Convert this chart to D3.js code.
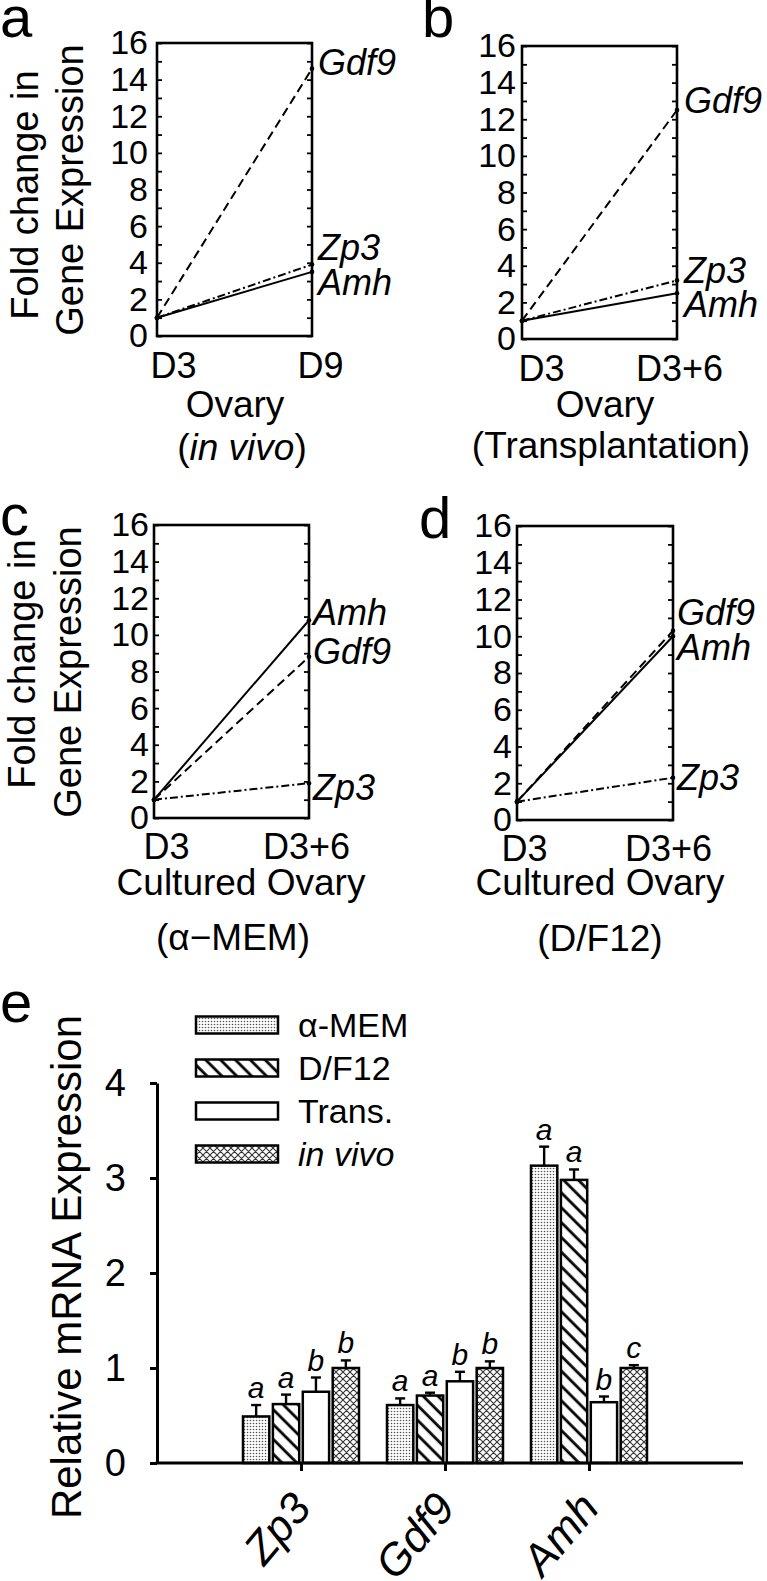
<!DOCTYPE html>
<html><head><meta charset="utf-8">
<script src="https://cdn.jsdelivr.net/npm/d3@7"></script>
<style>
body{margin:0;background:#fff}
svg{display:block}
text{font-family:"Liberation Sans",Arial,Helvetica,sans-serif;fill:#000}
</style>
</head><body>
<svg id="fig" width="767" height="1581"></svg>
<script>
// ================= DATA =================
const yTicksLine = [0, 2, 4, 6, 8, 10, 12, 14, 16];

const genesA = ["Gdf9", "Zp3", "Amh"];
const startA = [1, 1, 1];
const endA   = [14.6, 3.9, 3.5];
const timesA = ["D3", "D9"];

const genesB = ["Gdf9", "Zp3", "Amh"];
const startB = [1, 1, 1];
const endB   = [12.5, 3.2, 2.5];
const timesB = ["D3", "D3+6"];

const genesC = ["Amh", "Gdf9", "Zp3"];
const startC = [1, 1, 1];
const endC   = [10.8, 8.8, 1.9];
const timesC = ["D3", "D3+6"];

const genesD = ["Gdf9", "Amh", "Zp3"];
const startD = [1, 1, 1];
const endD   = [10.3, 10.0, 2.3];
const timesD = ["D3", "D3+6"];

// bar panel e
const barCategories = ["Zp3", "Gdf9", "Amh"];
const barSeries = ["α-MEM", "D/F12", "Trans.", "in vivo"];
const valMEM    = [0.49, 0.61, 3.13];
const errMEM    = [0.12, 0.07, 0.20];
const valDF12   = [0.62, 0.71, 2.98];
const errDF12   = [0.10, 0.03, 0.11];
const valTrans  = [0.75, 0.86, 0.64];
const errTrans  = [0.15, 0.10, 0.06];
const valInVivo = [1.00, 1.00, 1.00];
const errInVivo = [0.08, 0.07, 0.03];
const sigMEM    = ["a", "a", "a"];
const sigDF12   = ["a", "a", "a"];
const sigTrans  = ["b", "b", "b"];
const sigInVivo = ["b", "b", "c"];
const yTicksBar = [0, 1, 2, 3, 4];

// ================= STYLE / LAYOUT =================
const FONT = '"Liberation Sans",Arial,Helvetica,sans-serif';
const dashOf = {Gdf9: "9,5", Zp3: "8,3,2,3", Amh: null};

const svg = d3.select("#fig");
svg.append("rect").attr("width", 767).attr("height", 1581).attr("fill", "#fff");
const defs = svg.append("defs");

const pDots = defs.append("pattern").attr("id", "pdots").attr("patternUnits", "userSpaceOnUse")
  .attr("width", 3).attr("height", 3);
pDots.append("rect").attr("width", 3).attr("height", 3).attr("fill", "#fff");
pDots.append("circle").attr("cx", 1.5).attr("cy", 1.5).attr("r", 0.8).attr("fill", "#555");

const pStr = defs.append("pattern").attr("id", "pstripes").attr("patternUnits", "userSpaceOnUse")
  .attr("width", 10.5).attr("height", 10.5).attr("patternTransform", "rotate(-45)");
pStr.append("rect").attr("width", 10.5).attr("height", 10.5).attr("fill", "#fff");
pStr.append("line").attr("x1", 5).attr("x2", 5).attr("y1", -1).attr("y2", 11.5)
  .attr("stroke", "#000").attr("stroke-width", 2.8);

const pHatch = defs.append("pattern").attr("id", "phatch").attr("patternUnits", "userSpaceOnUse")
  .attr("width", 7).attr("height", 7);
pHatch.append("rect").attr("width", 7).attr("height", 7).attr("fill", "#fff");
pHatch.append("path").attr("d", "M0,0L7,7M7,0L0,7M-1,6L1,8M6,-1L8,1")
  .attr("stroke", "#333").attr("stroke-width", 1.1).attr("fill", "none");

// ================= LINE PANELS =================
function linePanel(cfg, genes, starts, ends, times) {
  const g = svg.append("g");
  const x = d3.scaleLinear().domain([0, 1]).range([cfg.left, cfg.left + cfg.w]);
  const y = d3.scaleLinear().domain([0, 16]).range([cfg.top + cfg.h, cfg.top]);
  const minor = d3.range(0, 17);

  const aL = g.append("g").attr("transform", `translate(${cfg.left},0)`)
    .call(d3.axisRight(y).tickValues(minor).tickSize(5).tickFormat(""));
  aL.select(".domain").remove();
  const aR = g.append("g").attr("transform", `translate(${cfg.left + cfg.w},0)`)
    .call(d3.axisLeft(y).tickValues(minor).tickSize(5).tickFormat(""));
  aR.select(".domain").remove();
  g.selectAll(".tick line").attr("stroke-width", 1.8);

  const lab = g.append("g").attr("transform", `translate(${cfg.left},0)`)
    .call(d3.axisLeft(y).tickValues(yTicksLine).tickSize(0).tickPadding(cfg.tickPad));
  lab.select(".domain").remove();
  lab.selectAll("text").style("font-size", "34px").style("font-family", FONT).attr("fill", "#000");

  g.append("rect").attr("x", x(0)).attr("y", y(16)).attr("width", x(1) - x(0)).attr("height", y(0) - y(16))
    .attr("fill", "none").attr("stroke", "#000").attr("stroke-width", 2.6);

  const line = d3.line().x(d => x(d[0])).y(d => y(d[1]));
  genes.forEach((gn, i) => {
    const pts = [[0, starts[i]], [1, ends[i]]];
    g.append("path").attr("d", line(pts)).attr("fill", "none").attr("stroke", "#000")
      .attr("stroke-width", 2).attr("stroke-dasharray", dashOf[gn]);
    pts.forEach(p => g.append("circle").attr("cx", x(p[0])).attr("cy", y(p[1])).attr("r", 2.3).attr("fill", "#000"));
    g.append("text").attr("x", x(1) + cfg.labDx).attr("y", y(ends[i]) + cfg.labDy[gn])
      .attr("dy", "0.35em").style("font-size", "36px").style("font-style", "italic").text(gn);
  });

  const xa = g.append("g").attr("transform", `translate(0,${y(0)})`)
    .call(d3.axisBottom(x).tickValues([0, 1]).tickSize(0).tickPadding(cfg.xPad).tickFormat((d, i) => times[i]));
  xa.select(".domain").remove();
  xa.selectAll("text").style("font-size", "36px").style("font-family", FONT).attr("fill", "#000");
  xa.selectAll(".tick").filter(d => d === 0).select("text").attr("text-anchor", "start").attr("dx", cfg.d3dx);
  xa.selectAll(".tick").filter(d => d === 1).select("text").attr("dx", cfg.endDx);

  g.append("text").attr("x", cfg.t1[0]).attr("y", cfg.t1[1]).attr("dy", "0.35em").attr("text-anchor", "middle")
    .style("font-size", "37px").text(cfg.title1);
  const t2 = g.append("text").attr("x", cfg.t2[0]).attr("y", cfg.t2[1]).attr("dy", "0.35em").attr("text-anchor", "middle")
    .style("font-size", "37px");
  cfg.title2.forEach(s => t2.append("tspan").style("font-style", s[1] ? "italic" : "normal").text(s[0]));

  if (cfg.yTitle) {
    [["Fold change in", cfg.yT1], ["Gene Expression", cfg.yT2]].forEach(([s, p]) => {
      g.append("text").attr("transform", `translate(${p[0]},${p[1]}) rotate(-90)`).attr("text-anchor", "middle")
        .attr("dy", "0.35em").style("font-size", "38px").text(s);
    });
  }
  g.append("text").attr("x", cfg.letter[0]).attr("y", cfg.letter[1]).style("font-size", "58px").text(cfg.letterText);
}

linePanel({left: 157, top: 43, w: 155, h: 293, tickPad: 9, labDx: 6, xPad: 16, d3dx: -7, endDx: 8,
  labDy: {Gdf9: -6, Zp3: -17, Amh: 10},
  t1: [235, 404], title1: "Ovary", t2: [242, 447], title2: [["(", 0], ["in vivo", 1], [")", 0]],
  yTitle: true, yT1: [25, 195], yT2: [70, 190], letter: [0, 37], letterText: "a"},
  genesA, startA, endA, timesA);

linePanel({left: 522, top: 46, w: 155, h: 293, tickPad: 6, labDx: 7, xPad: 16, d3dx: -4, endDx: 2,
  labDy: {Gdf9: -10, Zp3: -10, Amh: 11},
  t1: [605, 404], title1: "Ovary", t2: [611, 445], title2: [["(Transplantation)", 0]],
  yTitle: false, letter: [422, 37], letterText: "b"},
  genesB, startB, endB, timesB);

linePanel({left: 154, top: 525, w: 155, h: 293, tickPad: 5, labDx: 4, xPad: 15, d3dx: -11, endDx: -3,
  labDy: {Amh: -8, Gdf9: -5, Zp3: 4},
  t1: [241, 882], title1: "Cultured Ovary", t2: [233, 937], title2: [["(α−MEM)", 0]],
  yTitle: true, yT1: [22, 664], yT2: [68, 672], letter: [0, 535], letterText: "c"},
  genesC, startC, endC, timesC);

linePanel({left: 517, top: 526, w: 156, h: 294, tickPad: 5, labDx: 4, xPad: 15, d3dx: -16, endDx: -5,
  labDy: {Gdf9: -18, Amh: 11, Zp3: 0},
  t1: [600, 882], title1: "Cultured Ovary", t2: [600, 938], title2: [["(D/F12)", 0]],
  yTitle: false, letter: [419, 538], letterText: "d"},
  genesD, startD, endD, timesD);

// ================= BAR PANEL (e) =================
const eg = svg.append("g");
const yB = d3.scaleLinear().domain([0, 4]).range([1463, 1083]);
const xB = d3.scalePoint().domain(barCategories).range([157, 733]).padding(1);
const xS = d3.scaleBand().domain(barSeries).range([-58, 58]).paddingInner(0.12);
const fills = {"α-MEM": "url(#pdots)", "D/F12": "url(#pstripes)", "Trans.": "#fff", "in vivo": "url(#phatch)"};
const seriesVals = {"α-MEM": valMEM, "D/F12": valDF12, "Trans.": valTrans, "in vivo": valInVivo};
const seriesErr  = {"α-MEM": errMEM, "D/F12": errDF12, "Trans.": errTrans, "in vivo": errInVivo};
const seriesSig  = {"α-MEM": sigMEM, "D/F12": sigDF12, "Trans.": sigTrans, "in vivo": sigInVivo};

barSeries.forEach(s => {
  barCategories.forEach((c, i) => {
    const v = seriesVals[s][i], e = seriesErr[s][i];
    const x0 = xB(c) + xS(s), bw = xS.bandwidth(), cx = x0 + bw / 2;
    eg.append("line").attr("x1", cx).attr("x2", cx).attr("y1", yB(v)).attr("y2", yB(v + e))
      .attr("stroke", "#000").attr("stroke-width", 2.4);
    eg.append("line").attr("x1", cx - 5).attr("x2", cx + 5).attr("y1", yB(v + e)).attr("y2", yB(v + e))
      .attr("stroke", "#000").attr("stroke-width", 2.4);
    eg.append("rect").attr("x", x0).attr("y", yB(v)).attr("width", bw).attr("height", yB(0) - yB(v))
      .attr("fill", fills[s]).attr("stroke", "#000").attr("stroke-width", 2.5);
    eg.append("text").attr("x", cx).attr("y", yB(v + e) - 7).attr("text-anchor", "middle")
      .style("font-size", "30px").style("font-style", "italic").text(seriesSig[s][i]);
  });
});

const yAx = eg.append("g").attr("transform", "translate(157,0)")
  .call(d3.axisLeft(yB).tickValues(yTicksBar).tickSize(7).tickSizeOuter(0).tickPadding(24).tickFormat(d3.format("d")));
yAx.select(".domain").attr("stroke-width", 3);
yAx.selectAll(".tick line").attr("stroke-width", 3);
yAx.selectAll("text").style("font-size", "38px").style("font-family", FONT).attr("fill", "#000");

const xAx = eg.append("g").attr("transform", `translate(0,${yB(0)})`)
  .call(d3.axisBottom(xB).tickSize(8).tickSizeOuter(0).tickFormat(""));
xAx.select(".domain").remove();
xAx.selectAll(".tick line").attr("stroke-width", 3);
eg.append("line").attr("x1", 155.5).attr("x2", 743).attr("y1", yB(0)).attr("y2", yB(0))
  .attr("stroke", "#000").attr("stroke-width", 3);
barCategories.forEach(c => {
  eg.append("text").attr("transform", `translate(${xB(c) + 12},${yB(0) + 46}) rotate(-50)`)
    .attr("text-anchor", "end").style("font-size", "44px").style("font-style", "italic").text(c);
});

eg.append("text").attr("transform", "translate(66,1267) rotate(-90)").attr("text-anchor", "middle")
  .attr("dy", "0.35em").style("font-size", "42px").text("Relative mRNA Expression");

const legRow = d3.scalePoint().domain(barSeries).range([1025, 1154]);
barSeries.forEach(s => {
  eg.append("rect").attr("x", 196).attr("y", legRow(s) - 8.5).attr("width", 82).attr("height", 17)
    .attr("fill", fills[s]).attr("stroke", "#000").attr("stroke-width", 2.5);
  eg.append("text").attr("x", 298).attr("y", legRow(s)).attr("dy", "0.35em")
    .style("font-size", "34px").style("font-style", s === "in vivo" ? "italic" : "normal").text(s);
});

eg.append("text").attr("x", 0).attr("y", 1022).style("font-size", "58px").text("e");
</script>
</body></html>
